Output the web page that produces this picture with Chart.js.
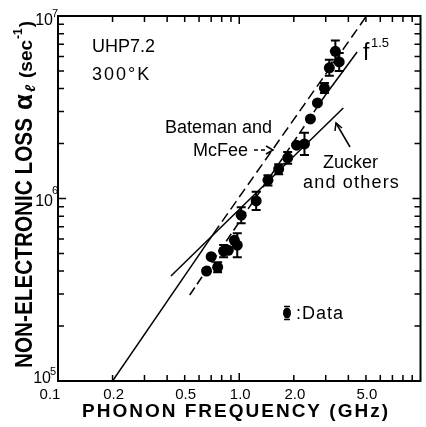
<!DOCTYPE html>
<html><head><meta charset="utf-8">
<script src="https://cdn.jsdelivr.net/npm/chart.js@4"></script>
<style>html,body{margin:0;padding:0;background:#fff}#wrap{width:426px;height:427px}</style>
</head><body><div id="wrap"><canvas id="c" width="426" height="427"></canvas></div>
<script>
// ---- data ----
const frequencyGHz = [0.66, 0.70, 0.76, 0.82, 0.87, 0.94, 0.975, 1.025, 1.24, 1.44, 1.65, 1.85, 2.07, 2.29, 2.47, 2.70, 2.95, 3.14, 3.39, 3.56];
const lossData     = [4.0e5, 4.8e5, 4.2e5, 5.15e5, 5.2e5, 5.9e5, 5.55e5, 8.1e5, 9.7e5, 1.26e6, 1.45e6, 1.67e6, 1.96e6, 1.99e6, 2.73e6, 3.34e6, 4.03e6, 5.2e6, 6.4e6, 5.6e6];
const errLow       = [null, null, 3.94e5, 4.77e5, null, null, 4.77e5, 7.32e5, 8.66e5, 1.18e6, 1.36e6, 1.55e6, null, 1.73e6, null, null, 3.78e6, 4.70e6, 5.57e6, 5.0e6];
const errHigh      = [null, null, 4.47e5, 5.56e5, null, null, 6.45e5, 8.96e5, 1.09e6, 1.34e6, 1.54e6, 1.80e6, null, 2.29e6, null, null, 4.29e6, 5.75e6, 7.35e6, 6.27e6];

const zuckerFreq = [0.42, 3.75];
const zuckerLoss = [3.76e5, 3.13e6];
const f15Freq = [0.533, 2.99, 4.47];
const f15Loss = [2.96e5, 3.69e6, 6.35e6];
const batemanFreq = [0.2, 0.72, 5.0];
const batemanLoss = [1e5, 6.4e5, 9.9e6];

const xTickValues = [0.1, 0.2, 0.5, 1, 2, 5];
const xTickLabels = ['0.1', '0.2', '0.5', '1.0', '2.0', '5.0'];
const yTickValues = [1e7, 1e6, 1e5];
const yTickExponents = ['7', '6', '5'];

const xTitle = 'PHONON FREQUENCY (GHz)';
const yTitleMain = 'NON-ELECTRONIC LOSS';

const pts = (xs, ys) => xs.map((x, i) => ({x: x, y: ys[i]}));
const FONT = '"Liberation Sans", Arial, sans-serif';

function spaced(ctx, s, x, y, spacing) {
  let cx = x;
  for (const ch of s) { ctx.fillText(ch, cx, y); cx += ctx.measureText(ch).width + spacing; }
}

const errorBars = {
  id: 'errorBars',
  afterDatasetsDraw(chart) {
    const ctx = chart.ctx, xs = chart.scales.x, ys = chart.scales.y;
    ctx.save(); ctx.strokeStyle = '#000'; ctx.lineWidth = 2;
    for (let i = 0; i < frequencyGHz.length; i++) {
      if (errLow[i] == null) continue;
      const px = xs.getPixelForValue(frequencyGHz[i]);
      const y1 = ys.getPixelForValue(errLow[i]), y2 = ys.getPixelForValue(errHigh[i]);
      ctx.beginPath();
      ctx.moveTo(px, y1); ctx.lineTo(px, y2);
      ctx.moveTo(px - 4.5, y1); ctx.lineTo(px + 4.5, y1);
      ctx.moveTo(px - 4.5, y2); ctx.lineTo(px + 4.5, y2);
      ctx.stroke();
    }
    ctx.restore();
  }
};

const decor = {
  id: 'decor',
  afterDraw(chart) {
    const ctx = chart.ctx, a = chart.chartArea, xs = chart.scales.x, ys = chart.scales.y;
    ctx.save();
    ctx.strokeStyle = '#000'; ctx.fillStyle = '#000';
    // frame
    ctx.lineWidth = 2;
    ctx.strokeRect(a.left, a.top, a.right - a.left, a.bottom - a.top);
    // ticks (inward, all four sides)
    ctx.lineWidth = 1.5;
    ctx.beginPath();
    for (let d = 0.1; d < 10; d *= 10) {
      for (let m = 1; m <= 9; m++) {
        const v = d * m; if (v <= 0.1 || v >= 10) continue;
        const px = xs.getPixelForValue(v), L = (m === 1) ? 8 : 6;
        ctx.moveTo(px, a.bottom); ctx.lineTo(px, a.bottom - L);
        ctx.moveTo(px, a.top); ctx.lineTo(px, a.top + L);
      }
    }
    for (let d = 1e5; d < 1e7; d *= 10) {
      for (let m = 1; m <= 9; m++) {
        const v = d * m; if (v <= 1e5 || v >= 1e7) continue;
        const py = ys.getPixelForValue(v), L = (m === 1) ? 8 : 6;
        ctx.moveTo(a.left, py); ctx.lineTo(a.left + L, py);
        ctx.moveTo(a.right, py); ctx.lineTo(a.right - L, py);
      }
    }
    ctx.stroke();

    // x tick labels
    ctx.font = '15px ' + FONT; ctx.textAlign = 'center'; ctx.textBaseline = 'alphabetic';
    xTickValues.forEach((v, i) => {
      let px = xs.getPixelForValue(v);
      if (i === 0) px -= 9;
      ctx.fillText(xTickLabels[i], px + 1, 399);
    });
    // y tick labels 10^n
    const yOff = [[9, 1], [7, -5], [2, -6]];
    yTickValues.forEach((v, i) => {
      const py = ys.getPixelForValue(v);
      const shift = i === 2 ? -2 : 0;
      ctx.font = '16px ' + FONT; ctx.textAlign = 'right';
      ctx.fillText('10', a.left - 5 + shift, py + yOff[i][0]);
      ctx.font = '11px ' + FONT; ctx.textAlign = 'left';
      ctx.fillText(yTickExponents[i], a.left - 6 + shift, py + yOff[i][1]);
    });

    // x title
    ctx.font = 'bold 19px ' + FONT; ctx.textAlign = 'left';
    let nat = 0; for (const ch of xTitle) nat += ctx.measureText(ch).width;
    const sp = (306 - nat) / (xTitle.length - 1);
    spaced(ctx, xTitle, 82, 417, sp);

    // y title (rotated)
    ctx.save();
    ctx.translate(32, 368); ctx.rotate(-Math.PI / 2);
    ctx.font = 'bold 23px ' + FONT;
    const w = ctx.measureText(yTitleMain).width;
    ctx.save(); ctx.scale(250 / w, 1); ctx.fillText(yTitleMain, 0, 0); ctx.restore();
    ctx.font = 'bold 26px ' + FONT;
    ctx.fillText('α', 258, 0);
    ctx.font = 'bold italic 14px ' + FONT;
    ctx.fillText('ℓ', 276, 3);
    ctx.font = 'bold 19px ' + FONT;
    ctx.fillText('(sec', 290, 0);
    const ws = ctx.measureText('(sec').width;
    ctx.font = 'bold 12px ' + FONT;
    ctx.fillText('-1', 290 + ws + 1, -10);
    const w1 = ctx.measureText('-1').width;
    ctx.font = 'bold 19px ' + FONT;
    ctx.fillText(')', 290 + ws + w1 + 2, 0);
    ctx.restore();

    // annotations
    ctx.textAlign = 'left';
    ctx.font = '18px ' + FONT;
    ctx.fillText('UHP7.2', 92, 52);
    spaced(ctx, '300°K', 92, 80, 2);
    ctx.fillText('Bateman and', 165, 133);
    ctx.fillText('McFee', 193, 156);
    ctx.fillText('Zucker', 323, 168);
    spaced(ctx, 'and others', 303, 188, 1.2);
    spaced(ctx, ':Data', 296, 319, 1);
    ctx.font = '23px ' + FONT;
    ctx.fillText('f', 363, 60);
    ctx.font = '13px ' + FONT;
    ctx.fillText('1.5', 371, 47);

    // McFee arrow (dashed shaft)
    ctx.lineWidth = 1.5;
    ctx.setLineDash([4, 3]);
    ctx.beginPath(); ctx.moveTo(254, 150); ctx.lineTo(268, 150); ctx.stroke();
    ctx.setLineDash([]);
    ctx.beginPath(); ctx.moveTo(266, 146); ctx.lineTo(273, 150); ctx.lineTo(266, 154); ctx.stroke();
    // Zucker arrow
    ctx.beginPath(); ctx.moveTo(350, 147); ctx.lineTo(336, 123); ctx.stroke();
    ctx.beginPath(); ctx.moveTo(335, 131); ctx.lineTo(336, 123); ctx.lineTo(342, 128); ctx.stroke();

    // legend marker
    ctx.beginPath(); ctx.ellipse(287, 313, 4, 5.5, 0, 0, Math.PI * 2); ctx.fill();
    ctx.lineWidth = 1.5;
    ctx.beginPath();
    ctx.moveTo(284, 306.5); ctx.lineTo(290, 306.5);
    ctx.moveTo(284, 319.5); ctx.lineTo(290, 319.5);
    ctx.stroke();
    ctx.restore();
  }
};

new Chart(document.getElementById('c'), {
  type: 'scatter',
  data: {
    datasets: [
      { label: 'Data', data: pts(frequencyGHz, lossData), pointRadius: 5.5, pointBackgroundColor: '#000', pointBorderWidth: 0, showLine: false },
      { label: 'Zucker and others', data: pts(zuckerFreq, zuckerLoss), showLine: true, borderColor: '#000', borderWidth: 1.5, pointRadius: 0 },
      { label: 'f^1.5', data: pts(f15Freq, f15Loss), showLine: true, borderColor: '#000', borderWidth: 1.5, pointRadius: 0,
        segment: { borderDash: c => c.p0DataIndex === 0 ? [9, 4] : [] } },
      { label: 'Bateman and McFee', data: pts(batemanFreq, batemanLoss), showLine: true, borderColor: '#000', borderWidth: 1.5, pointRadius: 0,
        segment: { borderDash: c => c.p0DataIndex === 0 ? [] : [10, 5] } }
    ]
  },
  options: {
    responsive: false, animation: false, devicePixelRatio: 1,
    layout: { padding: { left: 58, top: 16, right: 2, bottom: 46 } },
    plugins: { legend: { display: false }, tooltip: { enabled: false } },
    scales: {
      x: { type: 'logarithmic', min: 0.1, max: 10, display: false },
      y: { type: 'logarithmic', min: 1e5, max: 1e7, display: false }
    }
  },
  plugins: [errorBars, decor]
});
</script>
</body></html>
